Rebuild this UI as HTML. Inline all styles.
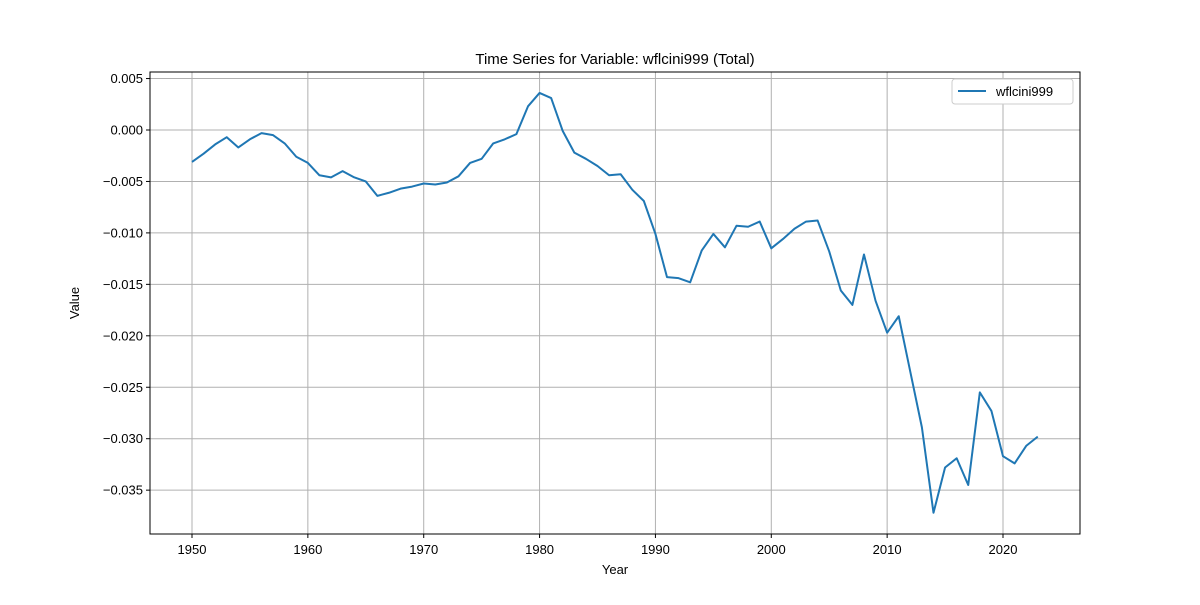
<!DOCTYPE html>
<html><head><meta charset="utf-8"><style>
body{margin:0;background:#fff;}
svg text{font-family:"Liberation Sans","DejaVu Sans",sans-serif;}
</style></head><body>
<svg id="chart" width="1200" height="600" xmlns="http://www.w3.org/2000/svg">
<rect width="1200" height="600" fill="#fff"/>
<text x="615" y="64" text-anchor="middle" font-size="15">Time Series for Variable: wflcini999 (Total)</text>
<text x="615" y="574" text-anchor="middle" font-size="13">Year</text>
<text transform="translate(79,303) rotate(-90)" text-anchor="middle" font-size="13">Value</text>
<g id="grid"></g><g id="ticks"></g><g id="series"></g>
<rect x="150" y="72" width="930" height="462" fill="none" stroke="#000" stroke-width="1"/>
<g>
<rect x="952" y="79" width="121" height="25" fill="#fff" stroke="#ccc" rx="3"/>
<line x1="958" y1="91" x2="986" y2="91" stroke="#1f77b4" stroke-width="2"/>
<text x="996" y="96" font-size="13">wflcini999</text>
</g>
</svg>
<script>
const years=[];for(let y=1950;y<=2023;y++)years.push(y);
const values=[-0.0031,-0.0023,-0.0014,-0.0007,-0.0017,-0.0009,-0.0003,-0.0005,-0.0013,-0.0026,-0.0032,-0.0044,-0.0046,-0.0040,-0.0046,-0.0050,-0.0064,-0.0061,-0.0057,-0.0055,-0.0052,-0.0053,-0.0051,-0.0045,-0.0032,-0.0028,-0.0013,-0.0009,-0.0004,0.0023,0.0036,0.0031,-0.0001,-0.0022,-0.0028,-0.0035,-0.0044,-0.0043,-0.0058,-0.0069,-0.0101,-0.0143,-0.0144,-0.0148,-0.0117,-0.0101,-0.0114,-0.0093,-0.0094,-0.0089,-0.0115,-0.0106,-0.0096,-0.0089,-0.0088,-0.0118,-0.0156,-0.0170,-0.0121,-0.0166,-0.0197,-0.0181,-0.0235,-0.0289,-0.0372,-0.0328,-0.0319,-0.0345,-0.0255,-0.0273,-0.0317,-0.0324,-0.0307,-0.0298];
const xTicks=[1950,1960,1970,1980,1990,2000,2010,2020];
const yTicks=[0.005,0,-0.005,-0.01,-0.015,-0.02,-0.025,-0.03,-0.035];
const yLabels=["0.005","0.000","−0.005","−0.010","−0.015","−0.020","−0.025","−0.030","−0.035"];
const X=v=>192+(v-1950)*(1003-192)/70;
const Y=v=>130-v*10290;
const NS="http://www.w3.org/2000/svg";
function mk(t,a,p){const e=document.createElementNS(NS,t);for(const k in a)e.setAttribute(k,a[k]);p.appendChild(e);return e;}
const g=document.getElementById('grid'),tk=document.getElementById('ticks'),s=document.getElementById('series');
xTicks.forEach(v=>{const x=X(v);
const l=mk('line',{x1:x,x2:x,y1:72,y2:534,stroke:'#b0b0b0','stroke-width':1},g);

mk('line',{x1:x,x2:x,y1:534,y2:538,stroke:'#000'},tk);
const t=mk('text',{x:x,y:554,'text-anchor':'middle','font-size':13},tk);t.textContent=v;
});
yTicks.forEach((v,i)=>{const y=Y(v);
const l=mk('line',{x1:150,x2:1080,y1:y,y2:y,stroke:'#b0b0b0','stroke-width':1},g);

mk('line',{x1:146,x2:150,y1:y,y2:y,stroke:'#000'},tk);
const t=mk('text',{x:143,y:y+4.5,'text-anchor':'end','font-size':13},tk);t.textContent=yLabels[i];
});
const d=years.map((yr,i)=>(i?'L':'M')+X(yr).toFixed(2)+','+Y(values[i]).toFixed(2)).join('');
const p=mk('path',{d:d,fill:'none',stroke:'#1f77b4','stroke-width':2,'stroke-linejoin':'round'},s);


</script>
</body></html>
